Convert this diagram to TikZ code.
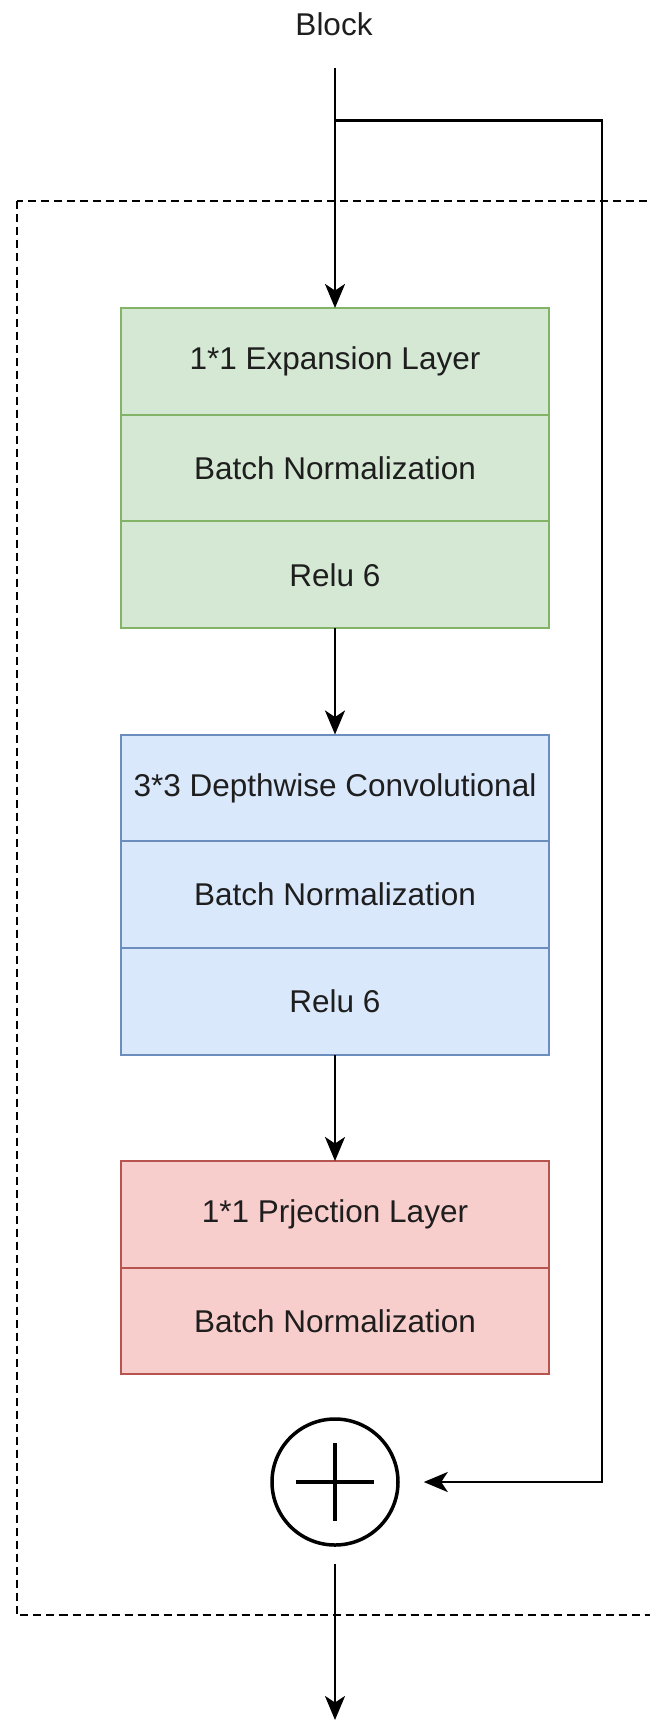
\documentclass[tikz,border=0pt]{standalone}
\usepackage{fontspec}
\setmainfont{Liberation Sans}
\usetikzlibrary{arrows.meta}
\definecolor{expfill}{HTML}{D5E8D4}
\definecolor{expline}{HTML}{82B366}
\definecolor{dwfill}{HTML}{DAE8FC}
\definecolor{dwline}{HTML}{6C8EBF}
\definecolor{projfill}{HTML}{F8CECC}
\definecolor{projline}{HTML}{B85450}
\definecolor{txt}{HTML}{1E1E1E}
\begin{document}
\begin{tikzpicture}[x=1pt,y=-1pt,
  layer/.style={draw, line width=2pt, minimum width=428pt, minimum height=106.7pt,
    inner sep=0pt, outer sep=0pt, anchor=north, text=txt, font=\fontsize{31.5}{38}\selectfont},
  expbox/.style={layer, fill=expfill, draw=expline},
  dwbox/.style={layer, fill=dwfill, draw=dwline},
  projbox/.style={layer, fill=projfill, draw=projline},
  conn/.style={line width=2.5pt, -{Stealth[length=24pt,width=20pt,inset=6.5pt]}},
]
\clip (0,0) rectangle (650,1720);

% dashed frame of the block
\draw[line width=2pt, dash pattern=on 8pt off 5pt] (16.5,201.5) rectangle (680,1614.5);

% title
\node[text=txt, font=\fontsize{31.5}{38}\selectfont] (blk) at (334,24) {Block};

% expansion stage
\node[expbox] (g1) at (335,308) {1*1 Expansion Layer};
\node[expbox] (g2) at (g1.south) {Batch Normalization};
\node[expbox] (g3) at (g2.south) {Relu 6};

% depthwise stage
\node[dwbox] (b1) at (335,734.5) {3*3 Depthwise Convolutional};
\node[dwbox] (b2) at (b1.south) {Batch Normalization};
\node[dwbox] (b3) at (b2.south) {Relu 6};

% projection stage
\node[projbox] (r1) at (335,1161) {1*1 Prjection Layer};
\node[projbox] (r2) at (r1.south) {Batch Normalization};

% residual sum
\node[circle, draw, line width=3.5pt, minimum size=126pt, inner sep=0pt] (sum) at (335,1482) {};
\draw[line width=3.5pt] ([xshift=-39pt]sum.center) -- ([xshift=39pt]sum.center);
\draw[line width=3.5pt] ([yshift=-39pt]sum.center) -- ([yshift=39pt]sum.center);

% connectors
\coordinate (top) at (335,68);
\coordinate (br) at (335,120.5);
\coordinate (c1) at (602,120.5);
\coordinate (c2) at (602,1482);
\coordinate (out) at (335,1720);

\draw[conn] (top) -- (g1.north);
\draw[conn] (g3.south) -- (b1.north);
\draw[conn] (b3.south) -- (r1.north);
\draw[conn, shorten >=24pt] (br) -- (c1) -- (c2) -- (sum.east);
\draw[conn, shorten <=17pt] (sum.south) -- (out);
\end{tikzpicture}
\end{document}
